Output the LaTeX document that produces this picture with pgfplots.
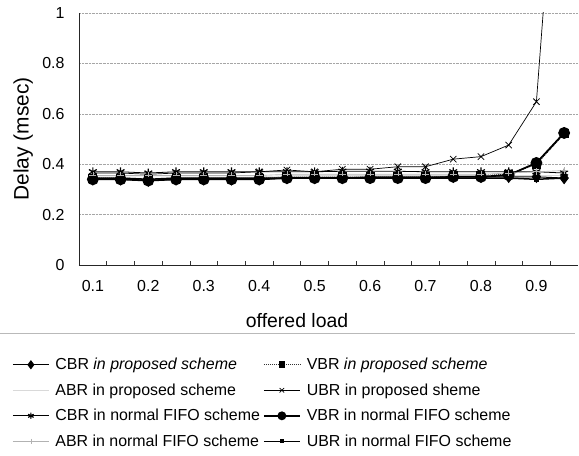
\documentclass[border=0pt]{standalone}
\usepackage{fontspec}
\setmainfont{Liberation Sans}
\usepackage{pgfplots}
\pgfplotsset{compat=1.18}
\begin{document}
\begin{tikzpicture}
\useasboundingbox (-79bp,-191bp) rectangle (500bp,265bp);
\begin{axis}[
  at={(0,0)}, anchor=south west,
  scale only axis, width=499bp, height=252bp,
  xmin=0.075, xmax=0.975, ymin=0, ymax=1,
  axis lines=left, axis line style={-, line width=0.8bp, black!85},
  clip=true,
  xtick={0.1,0.2,0.3,0.4,0.5,0.6,0.7,0.8,0.9},
  xticklabels={0.1,0.2,0.3,0.4,0.5,0.6,0.7,0.8,0.9},
  minor xtick={0.125,0.175,0.225,0.275,0.325,0.375,0.425,0.475,0.525,0.575,0.625,0.675,0.725,0.775,0.825,0.875,0.925},
  ytick={0,0.2,0.4,0.6,0.8,1},
  yticklabels={0,0.2,0.4,0.6,0.8,1},
  tick align=inside,
  major tick length=0pt, minor tick length=4bp,
  minor tick style={black!80, line width=0.6bp},
  ymajorgrids, major grid style={gray!70, densely dotted, line width=0.5bp},
  /pgf/number format/assume math mode=true,
  ticklabel style={font=\fontsize{16}{19}\selectfont},
  xticklabel style={yshift=-12bp},
  yticklabel style={xshift=-11bp},
  xlabel={offered load},
  xlabel style={font=\fontsize{19.5}{23}\selectfont, at={(axis description cs:0.437,-0.222)}, anchor=center},
  ylabel={Delay (msec)},
  ylabel style={font=\fontsize{21}{25}\selectfont, at={(axis description cs:-0.112,0.5)}, anchor=center},
  legend columns=2,
  legend cell align=left,
  legend image code/.code={\draw[mark repeat=2,mark phase=2] plot coordinates {(0bp,0bp) (18bp,0bp) (36bp,0bp)};},
  legend image post style={/tikz/every mark/.append style={scale=0.7}},
  legend style={at={(axis description cs:-0.18,-0.27)}, anchor=north west,
    draw=none, font=\fontsize{16}{19}\selectfont,
    inner ysep=23bp, inner xsep=23bp, row sep=8.5bp,
    /tikz/every odd column/.append style={column sep=4bp},
    /tikz/every even column/.append style={column sep=1bp}},
]
% CBR proposed
\addplot[black, line width=1bp, mark=diamond*, mark size=5.5bp, mark options={solid}] coordinates {
(0.1,0.34)(0.15,0.34)(0.2,0.335)(0.25,0.34)(0.3,0.34)(0.35,0.34)(0.4,0.34)(0.45,0.345)(0.5,0.345)(0.55,0.345)(0.6,0.35)(0.65,0.35)(0.7,0.35)(0.75,0.35)(0.8,0.35)(0.85,0.35)(0.9,0.35)(0.95,0.345)};
\addlegendentry{CBR \textit{in proposed scheme}}
% VBR proposed
\addplot[black!80, line width=1bp, densely dotted, mark=square*, mark size=4bp, mark options={solid,black}] coordinates {
(0.1,0.345)(0.15,0.345)(0.2,0.34)(0.25,0.345)(0.3,0.345)(0.35,0.345)(0.4,0.345)(0.45,0.35)(0.5,0.35)(0.55,0.35)(0.6,0.35)(0.65,0.35)(0.7,0.35)(0.75,0.355)(0.8,0.355)(0.85,0.36)(0.9,0.40)(0.95,0.52)};
\addlegendentry{VBR \textit{in proposed scheme}}
% ABR proposed
\addplot[gray!30, line width=0.6bp] coordinates {
(0.1,0.35)(0.15,0.35)(0.2,0.35)(0.25,0.35)(0.3,0.35)(0.35,0.35)(0.4,0.35)(0.45,0.355)(0.5,0.355)(0.55,0.355)(0.6,0.355)(0.65,0.355)(0.7,0.355)(0.75,0.355)(0.8,0.355)(0.85,0.355)(0.9,0.355)(0.95,0.355)};
\addlegendentry{ABR in proposed scheme}
% UBR proposed
\addplot[black, line width=0.7bp, mark=x, mark size=4.5bp, mark options={solid, line width=0.8bp}] coordinates {
(0.1,0.365)(0.15,0.365)(0.2,0.36)(0.25,0.365)(0.3,0.365)(0.35,0.365)(0.4,0.37)(0.45,0.377)(0.5,0.37)(0.55,0.38)(0.6,0.38)(0.65,0.39)(0.7,0.39)(0.75,0.42)(0.8,0.43)(0.85,0.476)(0.9,0.648)(0.95,2.1)};
\addlegendentry{UBR in proposed sheme}
% CBR normal FIFO
\addplot[black, line width=0.8bp, mark=asterisk, mark size=4.5bp, mark options={solid, line width=1.2bp}] coordinates {
(0.1,0.37)(0.15,0.37)(0.2,0.365)(0.25,0.37)(0.3,0.37)(0.35,0.37)(0.4,0.37)(0.45,0.37)(0.5,0.37)(0.55,0.372)(0.6,0.372)(0.65,0.372)(0.7,0.37)(0.75,0.37)(0.8,0.37)(0.85,0.37)(0.9,0.37)(0.95,0.365)};
\addlegendentry{CBR in normal FIFO scheme}
% VBR normal FIFO
\addplot[black, line width=1.8bp, mark=*, mark size=5bp, mark options={solid}] coordinates {
(0.1,0.34)(0.15,0.34)(0.2,0.335)(0.25,0.34)(0.3,0.34)(0.35,0.34)(0.4,0.34)(0.45,0.345)(0.5,0.345)(0.55,0.345)(0.6,0.345)(0.65,0.345)(0.7,0.345)(0.75,0.35)(0.8,0.35)(0.85,0.357)(0.9,0.405)(0.95,0.524)};
\addlegendentry{VBR in normal FIFO scheme}
% ABR normal FIFO
\addplot[gray!60, line width=0.6bp, mark=+, mark size=3.5bp, mark options={solid}] coordinates {
(0.1,0.355)(0.15,0.355)(0.2,0.355)(0.25,0.355)(0.3,0.355)(0.35,0.355)(0.4,0.355)(0.45,0.36)(0.5,0.36)(0.55,0.36)(0.6,0.36)(0.65,0.36)(0.7,0.36)(0.75,0.36)(0.8,0.36)(0.85,0.365)(0.9,0.37)(0.95,0.375)};
\addlegendentry{ABR in normal FIFO scheme}
% UBR normal FIFO
\addplot[black, line width=1.5bp, mark=square*, mark size=1.6bp, mark options={solid}] coordinates {
(0.1,0.345)(0.15,0.345)(0.2,0.34)(0.25,0.345)(0.3,0.345)(0.35,0.345)(0.4,0.345)(0.45,0.345)(0.5,0.345)(0.55,0.345)(0.6,0.345)(0.65,0.345)(0.7,0.345)(0.75,0.345)(0.8,0.345)(0.85,0.345)(0.9,0.34)(0.95,0.345)};
\addlegendentry{UBR in normal FIFO scheme}
\end{axis}
\draw[gray!55, line width=0.6bp] (-79bp,-68bp) -- (496bp,-68bp);
\end{tikzpicture}
\end{document}
